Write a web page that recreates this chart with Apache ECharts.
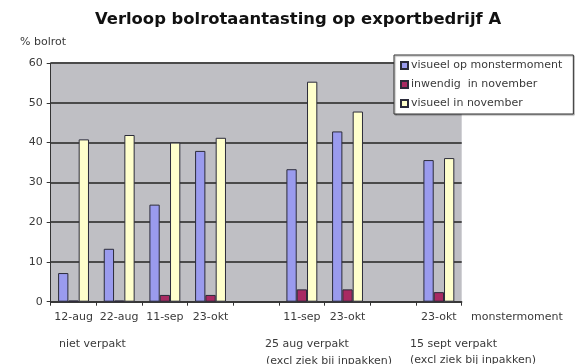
<!DOCTYPE html>
<html>
<head>
<meta charset="utf-8">
<script src="https://cdn.jsdelivr.net/npm/echarts@6/dist/echarts.min.js"></script>
<style>
html,body{margin:0;padding:0;background:#fff;}
#chart{width:575px;height:364px;}
</style>
</head>
<body>
<div id="chart"></div>
<script>
const categories = ['12-aug', '22-aug', '11-sep', '23-okt', '', '11-sep', '23-okt', '', '23-okt'];
const visueelMonster = [7.2, 13.3, 24.4, 37.9, '-', 33.3, 42.8, '-', 35.6];
const inwendigNov = [0.3, 0.3, 1.7, 1.7, '-', 3.1, 3.1, '-', 2.4];
const visueelNov = [40.8, 41.9, 40.0, 41.2, '-', 55.3, 47.8, '-', 36.1];
const seriesNames = ['visueel op monstermoment', 'inwendig  in november', 'visueel in november'];
const yTicks = { min: 0, max: 60, interval: 10 };

const FONT = '"DejaVu Sans", sans-serif';
const TXT = '#3a3a3a';

const chart = echarts.init(document.getElementById('chart'), null, { renderer: 'canvas' });

function txt(text, x, y, size, weight) {
  return {
    type: 'text', x: x, y: y, silent: true,
    style: {
      text: text, fill: TXT, align: 'left', verticalAlign: 'middle',
      font: (weight || 'normal') + ' ' + (size || 11) + 'px ' + FONT
    }
  };
}

const barStyle = (color) => ({ color: color, borderColor: '#2b2b3a', borderWidth: 1 });

chart.setOption({
  animation: false,
  backgroundColor: '#fff',
  title: {
    text: 'Verloop bolrotaantasting op exportbedrijf A',
    left: 95, top: 12, padding: 0,
    textStyle: { fontFamily: FONT, fontWeight: 'bold', fontSize: 16.4, color: '#111' }
  },
  legend: {
    orient: 'vertical',
    left: 394, top: 55,
    padding: [5, 11, 5, 6],
    itemGap: 8, itemWidth: 7, itemHeight: 7,
    icon: 'rect',
    backgroundColor: '#fff',
    borderColor: '#333', borderWidth: 1,
    shadowColor: 'rgba(0,0,0,0.35)', shadowOffsetX: 1, shadowOffsetY: 1, shadowBlur: 1,
    textStyle: { fontFamily: FONT, fontSize: 11, color: TXT, padding: [0, 0, 0, -2] },
    data: seriesNames
  },
  grid: {
    left: 50.7, right: 113.3, top: 63, bottom: 62.3,
    show: true, backgroundColor: '#bfbfc4', borderWidth: 0
  },
  xAxis: {
    type: 'category',
    data: categories,
    axisLine: { lineStyle: { color: '#333', width: 1.5 } },
    axisTick: { show: true, length: 4, interval: 0, lineStyle: { color: '#333' } },
    axisLabel: { interval: 0, margin: 10, fontFamily: FONT, fontSize: 11, color: TXT }
  },
  yAxis: {
    type: 'value',
    min: yTicks.min, max: yTicks.max, interval: yTicks.interval,
    axisLine: { show: true, lineStyle: { color: '#333', width: 1 } },
    axisTick: { show: true, length: 4, lineStyle: { color: '#333' } },
    axisLabel: { margin: 8, fontFamily: FONT, fontSize: 11, color: TXT },
    splitLine: { lineStyle: { color: '#4a4a4a', width: 2 } }
  },
  series: [
    { name: seriesNames[0], type: 'bar', data: visueelMonster, barWidth: 10.3, barGap: '0%', itemStyle: barStyle('#9a9bee') },
    { name: seriesNames[1], type: 'bar', data: inwendigNov, barWidth: 10.3, barGap: '0%', itemStyle: barStyle('#a82a62') },
    { name: seriesNames[2], type: 'bar', data: visueelNov, barWidth: 10.3, barGap: '0%', itemStyle: barStyle('#ffffcc') }
  ],
  graphic: [
    txt('% bolrot', 20, 42),
    txt('monstermoment', 471, 317),
    txt('niet verpakt', 59, 344),
    txt('25 aug verpakt', 265, 344),
    txt('(excl ziek bij inpakken)', 266, 361),
    txt('15 sept verpakt', 410, 344),
    txt('(excl ziek bij inpakken)', 410, 360)
  ]
});
</script>
</body>
</html>
